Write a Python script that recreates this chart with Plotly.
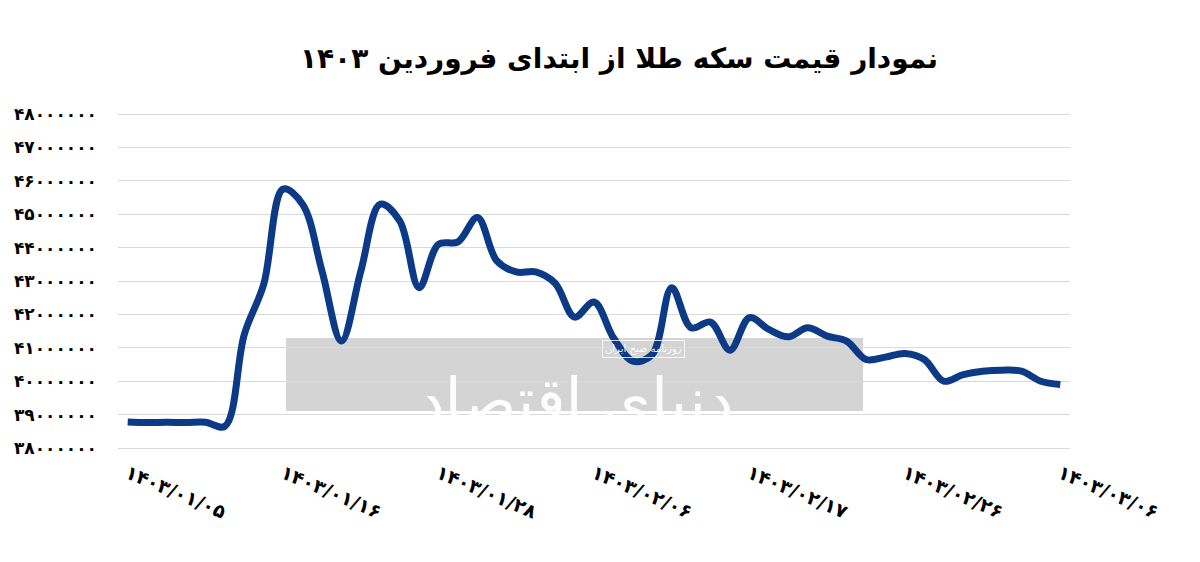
import plotly.graph_objects as go

# ---- data ----
day_index = list(range(49))
coin_price_million = [
    38.78, 38.76, 38.77, 38.76, 38.77, 38.65, 41.4, 42.9, 45.75, 45.3,
    43.3, 41.2, 43.3, 45.3, 44.8, 42.8, 44.1, 44.17, 44.9, 43.6,
    43.27, 43.27, 42.93, 41.92, 42.37, 41.3, 40.6, 40.8, 42.8, 41.6,
    41.77, 40.93, 41.9, 41.55, 41.33, 41.6, 41.35, 41.2, 40.65, 40.72,
    40.83, 40.65, 40.0, 40.2, 40.3, 40.33, 40.3, 40.0, 39.9,
]
x_tick_positions = [0, 8, 16, 24, 32, 40, 48]
x_tick_labels = ["۱۴۰۳/۰۱/۰۵", "۱۴۰۳/۰۱/۱۶", "۱۴۰۳/۰۱/۲۸", "۱۴۰۳/۰۲/۰۶",
                 "۱۴۰۳/۰۲/۱۷", "۱۴۰۳/۰۲/۲۶", "۱۴۰۳/۰۳/۰۶"]
y_tick_values = [38000000, 39000000, 40000000, 41000000, 42000000, 43000000,
                 44000000, 45000000, 46000000, 47000000, 48000000]
y_tick_labels = ["۳۸۰۰۰۰۰۰", "۳۹۰۰۰۰۰۰", "۴۰۰۰۰۰۰۰", "۴۱۰۰۰۰۰۰", "۴۲۰۰۰۰۰۰",
                 "۴۳۰۰۰۰۰۰", "۴۴۰۰۰۰۰۰", "۴۵۰۰۰۰۰۰", "۴۶۰۰۰۰۰۰", "۴۷۰۰۰۰۰۰",
                 "۴۸۰۰۰۰۰۰"]
title_text = "نمودار قیمت سکه طلا از ابتدای فروردین ۱۴۰۳"

prices = [v * 1_000_000 for v in coin_price_million]

# page offset (body margin) and plot area in reference pixels
OFF = 8
W, H = 1200, 562
L, R, T, B = 118 - OFF, 1070 - OFF, 112 - OFF, 450 - OFF
pw, ph = R - L, B - T


def px_x(x):
    return (x - OFF - L) / pw


def px_y(y):
    return (B - (y - OFF)) / ph


fig = go.Figure()
fig.add_trace(go.Scatter(
    x=day_index, y=prices, mode="lines",
    line=dict(color="#0c3a86", width=7, shape="spline", smoothing=1.0),
    hoverinfo="skip", showlegend=False,
))

# watermark
fig.add_shape(type="rect", xref="paper", yref="paper",
              x0=px_x(286), x1=px_x(863), y0=px_y(411), y1=px_y(338),
              fillcolor="#d4d4d4", line=dict(width=0), layer="below")
fig.add_annotation(xref="paper", yref="paper",
                   x=px_x(575), y=px_y(400), yanchor="middle",
                   text="دنیای اقتصاد", showarrow=False,
                   font=dict(family="DejaVu Sans", size=62, color="rgba(255,255,255,0.95)"))
fig.add_annotation(xref="paper", yref="paper",
                   x=px_x(643), y=px_y(349), yanchor="middle",
                   text="روزنامه صبح ایران", showarrow=False,
                   font=dict(family="DejaVu Sans", size=10, color="rgba(255,255,255,0.95)"),
                   bordercolor="rgba(255,255,255,0.8)", borderwidth=1, borderpad=2)

fig.update_layout(
    width=W, height=H,
    margin=dict(l=L, r=W - R, t=T, b=H - B, autoexpand=False),
    paper_bgcolor="white", plot_bgcolor="white",
    title=dict(text=title_text, x=(619 - OFF) / W, xanchor="center",
               y=1 - (58 - OFF) / H, yanchor="middle",
               font=dict(family="DejaVu Sans", size=28, color="black", weight="bold")),
    xaxis=dict(range=[-0.5, 48.5], tickvals=x_tick_positions, ticktext=x_tick_labels,
               tickangle=23, showgrid=False, zeroline=False, showline=False, ticks="",
               automargin=False,
               tickfont=dict(family="DejaVu Sans", size=19, color="black", weight="bold"),
               ticklabelstandoff=8),
    yaxis=dict(range=[37940000, 48060000], tickvals=y_tick_values, ticktext=y_tick_labels,
               showgrid=True, gridcolor="#d9d9d9", gridwidth=1, zeroline=False,
               showline=False, ticks="", ticklabelstandoff=20, automargin=False,
               tickfont=dict(family="DejaVu Sans", size=17, color="black", weight="bold")),
)

fig.write_html("out.html")
